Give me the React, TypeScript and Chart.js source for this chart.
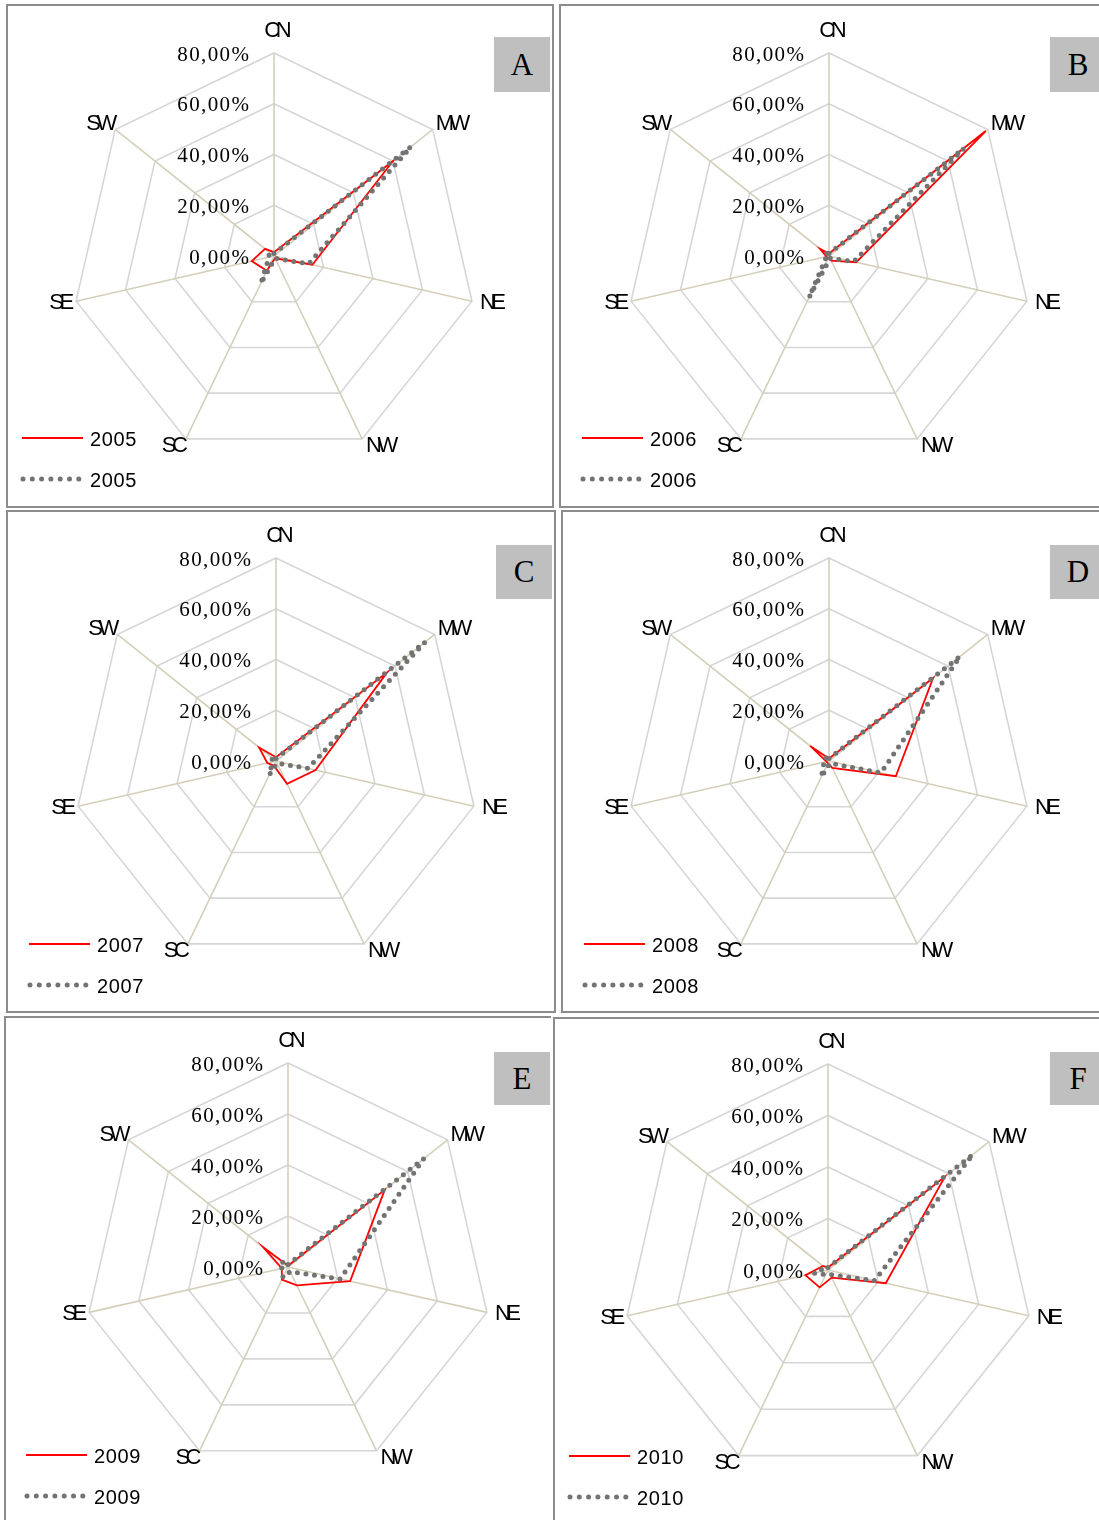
import React, { useEffect, useRef } from "react";
import { Chart, registerables } from "chart.js";

Chart.register(...registerables);

// ---------- data ----------
const categories = ["CN", "MW", "NE", "NW", "SC", "SE", "SW"];
const years = ["2005", "2006", "2007", "2008", "2009", "2010"];
const panelLetters = ["A", "B", "C", "D", "E", "F"];

const solid2005 = [1.5, 60, 15.5, 1, 6.5, 9, 4.5];
const dotted2005 = [1, 69, 14, 1, 12, 2, 2.5];
const solid2006 = [1, 79, 11, 2, 1, 1, 4.5];
const dotted2006 = [1, 68, 10, 1, 18, 1, 2];
const solid2007 = [1.5, 56, 16, 10, 2, 3.5, 8.5];
const dotted2007 = [1, 75, 13, 1, 6, 1.5, 2];
const solid2008 = [1, 52.5, 27, 3, 1, 1, 9.5];
const dotted2008 = [1, 66, 21, 1, 7, 2, 2];
const solid2009 = [0.5, 48.5, 25, 8, 5.5, 2.5, 12.5];
const dotted2009 = [1, 68, 21, 2, 4.5, 2.5, 3.5];
const solid2010 = [1, 58, 23, 3.3, 7.5, 9, 2.5];
const dotted2010 = [1, 72, 18.5, 2, 2, 5.5, 1.5];

const solidSeries = [solid2005, solid2006, solid2007, solid2008, solid2009, solid2010];
const dottedSeries = [dotted2005, dotted2006, dotted2007, dotted2008, dotted2009, dotted2010];

const axisMin = 0;
const axisMax = 80;
const axisStep = 20;

// ---------- layout (page coordinates) ----------
type Frame = { l: number; t: number; r: number; b: number; noRight?: boolean };
type Panel = {
  frame: Frame;
  cx: number;
  cy: number;
  R: number;
  legX: number;
  legY: number;
  boxX: number;
  boxY: number;
  boxW: number;
  boxH: number;
};

const PAGE_W = 1099;
const PAGE_H = 1520;

const panels: Panel[] = [
  { frame: { l: 7, t: 5, r: 553, b: 507 }, cx: 274, cy: 256, R: 203, legX: 22, legY: 438, boxX: 494, boxY: 37, boxW: 56, boxH: 55 },
  { frame: { l: 560, t: 5, r: 1112, b: 507 }, cx: 829, cy: 256, R: 203, legX: 582, legY: 438, boxX: 1050, boxY: 37, boxW: 56, boxH: 55 },
  { frame: { l: 7, t: 511, r: 555, b: 1012 }, cx: 276, cy: 761, R: 203, legX: 29, legY: 944, boxX: 496, boxY: 545, boxW: 56, boxH: 54 },
  { frame: { l: 562, t: 511, r: 1112, b: 1012 }, cx: 829, cy: 761, R: 203, legX: 584, legY: 944, boxX: 1050, boxY: 545, boxW: 56, boxH: 54 },
  { frame: { l: 5, t: 1017, r: 550, b: 1530, noRight: true }, cx: 288, cy: 1267, R: 204, legX: 26, legY: 1455, boxX: 494, boxY: 1052, boxW: 56, boxH: 53 },
  { frame: { l: 554, t: 1018, r: 1112, b: 1530 }, cx: 828, cy: 1270, R: 206, legX: 569, legY: 1456, boxX: 1050, boxY: 1052, boxW: 56, boxH: 53 },
];

// label offsets relative to outer vertex: [dx, dy, align]
const labelOffsets: [number, number, "left" | "right" | "center"][] = [
  [4, -22, "center"],
  [3, -5, "left"],
  [8, 2, "left"],
  [4, 7, "left"],
  [2, 7, "right"],
  [-2, 2, "right"],
  [2, -5, "right"],
];

const RED = "#ff0000";
const GRAY = "#737373";
const DOT_DASH = [0, 8.6];

function fmtTick(v: number) {
  return v.toFixed(2).replace(".", ",") + "%";
}

function drawSpaced(ctx: any, text: string, x: number, y: number, align: string, spacing: number) {
  ctx.letterSpacing = spacing + "px";
  const w = ctx.measureText(text).width - spacing;
  let x0 = x;
  if (align === "right") x0 = x - w;
  else if (align === "center") x0 = x - w / 2;
  ctx.textAlign = "left";
  ctx.fillText(text, x0, y);
  ctx.letterSpacing = "0px";
}

function RadarPanel({ p, i }: { p: Panel; i: number }) {
  const ref = useRef<HTMLCanvasElement>(null);
  const left = p.frame.l + 1;
  const top = p.frame.t + 1;
  const right = Math.min(p.frame.r - 1, PAGE_W);
  const bottom = Math.min(p.frame.b - 1, PAGE_H);
  const cw = right - left;
  const ch = bottom - top;

  useEffect(() => {
    const lcx = p.cx - left;
    const lcy = p.cy - top;
    const overlay = {
      id: "overlay" + i,
      afterDraw(chart: any) {
        const ctx = chart.ctx;
        const s = chart.scales.r;
        ctx.save();
        ctx.fillStyle = "#000";
        ctx.textBaseline = "middle";
        // tick labels
        ctx.font = '21px "Liberation Serif"';
        s.ticks.forEach((t: any) => {
          const d = s.getDistanceFromCenterForValue(t.value);
          drawSpaced(ctx, fmtTick(t.value), s.xCenter - 25, s.yCenter - d + 2, "right", 1.4);
        });
        // point labels
        ctx.font = '22px "Liberation Sans"';
        const outer = s.getDistanceFromCenterForValue(axisMax);
        categories.forEach((c, k) => {
          const pos = s.getPointPosition(k, outer);
          const [dx, dy, al] = labelOffsets[k];
          drawSpaced(ctx, c, pos.x + dx, pos.y + dy, al, -4.5);
        });
        // legend
        const lx = p.legX - left;
        const ly = p.legY - top;
        ctx.strokeStyle = RED;
        ctx.lineWidth = 1.8;
        ctx.beginPath();
        ctx.moveTo(lx, ly);
        ctx.lineTo(lx + 61, ly);
        ctx.stroke();
        ctx.strokeStyle = GRAY;
        ctx.lineWidth = 5;
        ctx.lineCap = "round";
        ctx.setLineDash([0, 9.3]);
        ctx.beginPath();
        ctx.moveTo(lx + 1, ly + 41);
        ctx.lineTo(lx + 58, ly + 41);
        ctx.stroke();
        ctx.setLineDash([]);
        ctx.font = '20px "Liberation Sans"';
        drawSpaced(ctx, years[i], lx + 68, ly + 2, "left", 0.6);
        drawSpaced(ctx, years[i], lx + 68, ly + 43, "left", 0.6);
        ctx.restore();
      },
    };

    const chart = new Chart(ref.current as HTMLCanvasElement, {
      type: "radar",
      data: {
        labels: categories,
        datasets: [
          {
            label: years[i],
            data: solidSeries[i],
            borderColor: RED,
            borderWidth: 1.8,
            pointRadius: 0,
            fill: false,
            order: 1,
          },
          {
            label: years[i],
            data: dottedSeries[i],
            borderColor: GRAY,
            borderWidth: 5,
            borderDash: DOT_DASH,
            borderCapStyle: "round",
            pointRadius: 0,
            fill: false,
            order: 0,
          },
        ],
      },
      options: {
        responsive: false,
        animation: false,
        events: [],
        layout: {
          padding: {
            left: lcx - p.R,
            top: lcy - p.R,
            right: cw - (lcx + p.R),
            bottom: ch - (lcy + p.R),
          },
        },
        elements: { line: { tension: 0 } },
        plugins: {
          legend: { display: false },
          tooltip: { enabled: false },
        },
        scales: {
          r: {
            min: axisMin,
            max: axisMax,
            ticks: { display: false, stepSize: axisStep, showLabelBackdrop: false },
            pointLabels: { display: false },
            grid: { color: "#d6d6d6", lineWidth: 1.6 },
            angleLines: { color: "#d5cfba", lineWidth: 1.6 },
          },
        },
      } as any,
      plugins: [overlay],
    });
    return () => chart.destroy();
  }, []);

  return (
    <canvas
      ref={ref}
      width={cw}
      height={ch}
      style={{ position: "absolute", left, top, width: cw, height: ch }}
    />
  );
}

export default function App() {
  return (
    <div
      style={{
        position: "absolute",
        left: 0,
        top: 0,
        width: PAGE_W,
        height: PAGE_H,
        overflow: "hidden",
        background: "#fff",
      }}
    >
      {panels.map((p, i) => (
        <div
          key={"f" + i}
          style={{
            position: "absolute",
            left: p.frame.l - 1,
            top: p.frame.t - 1,
            width: p.frame.r - p.frame.l + 2,
            height: p.frame.b - p.frame.t + 2,
            boxSizing: "border-box",
            border: "2px solid #8c8c8c",
            borderRight: p.frame.noRight ? "none" : "2px solid #8c8c8c",
          }}
        />
      ))}
      {panels.map((p, i) => (
        <RadarPanel key={"c" + i} p={p} i={i} />
      ))}
      {panels.map((p, i) => (
        <div
          key={"b" + i}
          style={{
            position: "absolute",
            left: p.boxX,
            top: p.boxY,
            width: p.boxW,
            height: p.boxH,
            background: "#bfbfbf",
            fontFamily: '"Liberation Serif", serif',
            fontSize: 31,
            lineHeight: p.boxH + "px",
            textAlign: "center",
            color: "#000",
          }}
        >
          {panelLetters[i]}
        </div>
      ))}
    </div>
  );
}
